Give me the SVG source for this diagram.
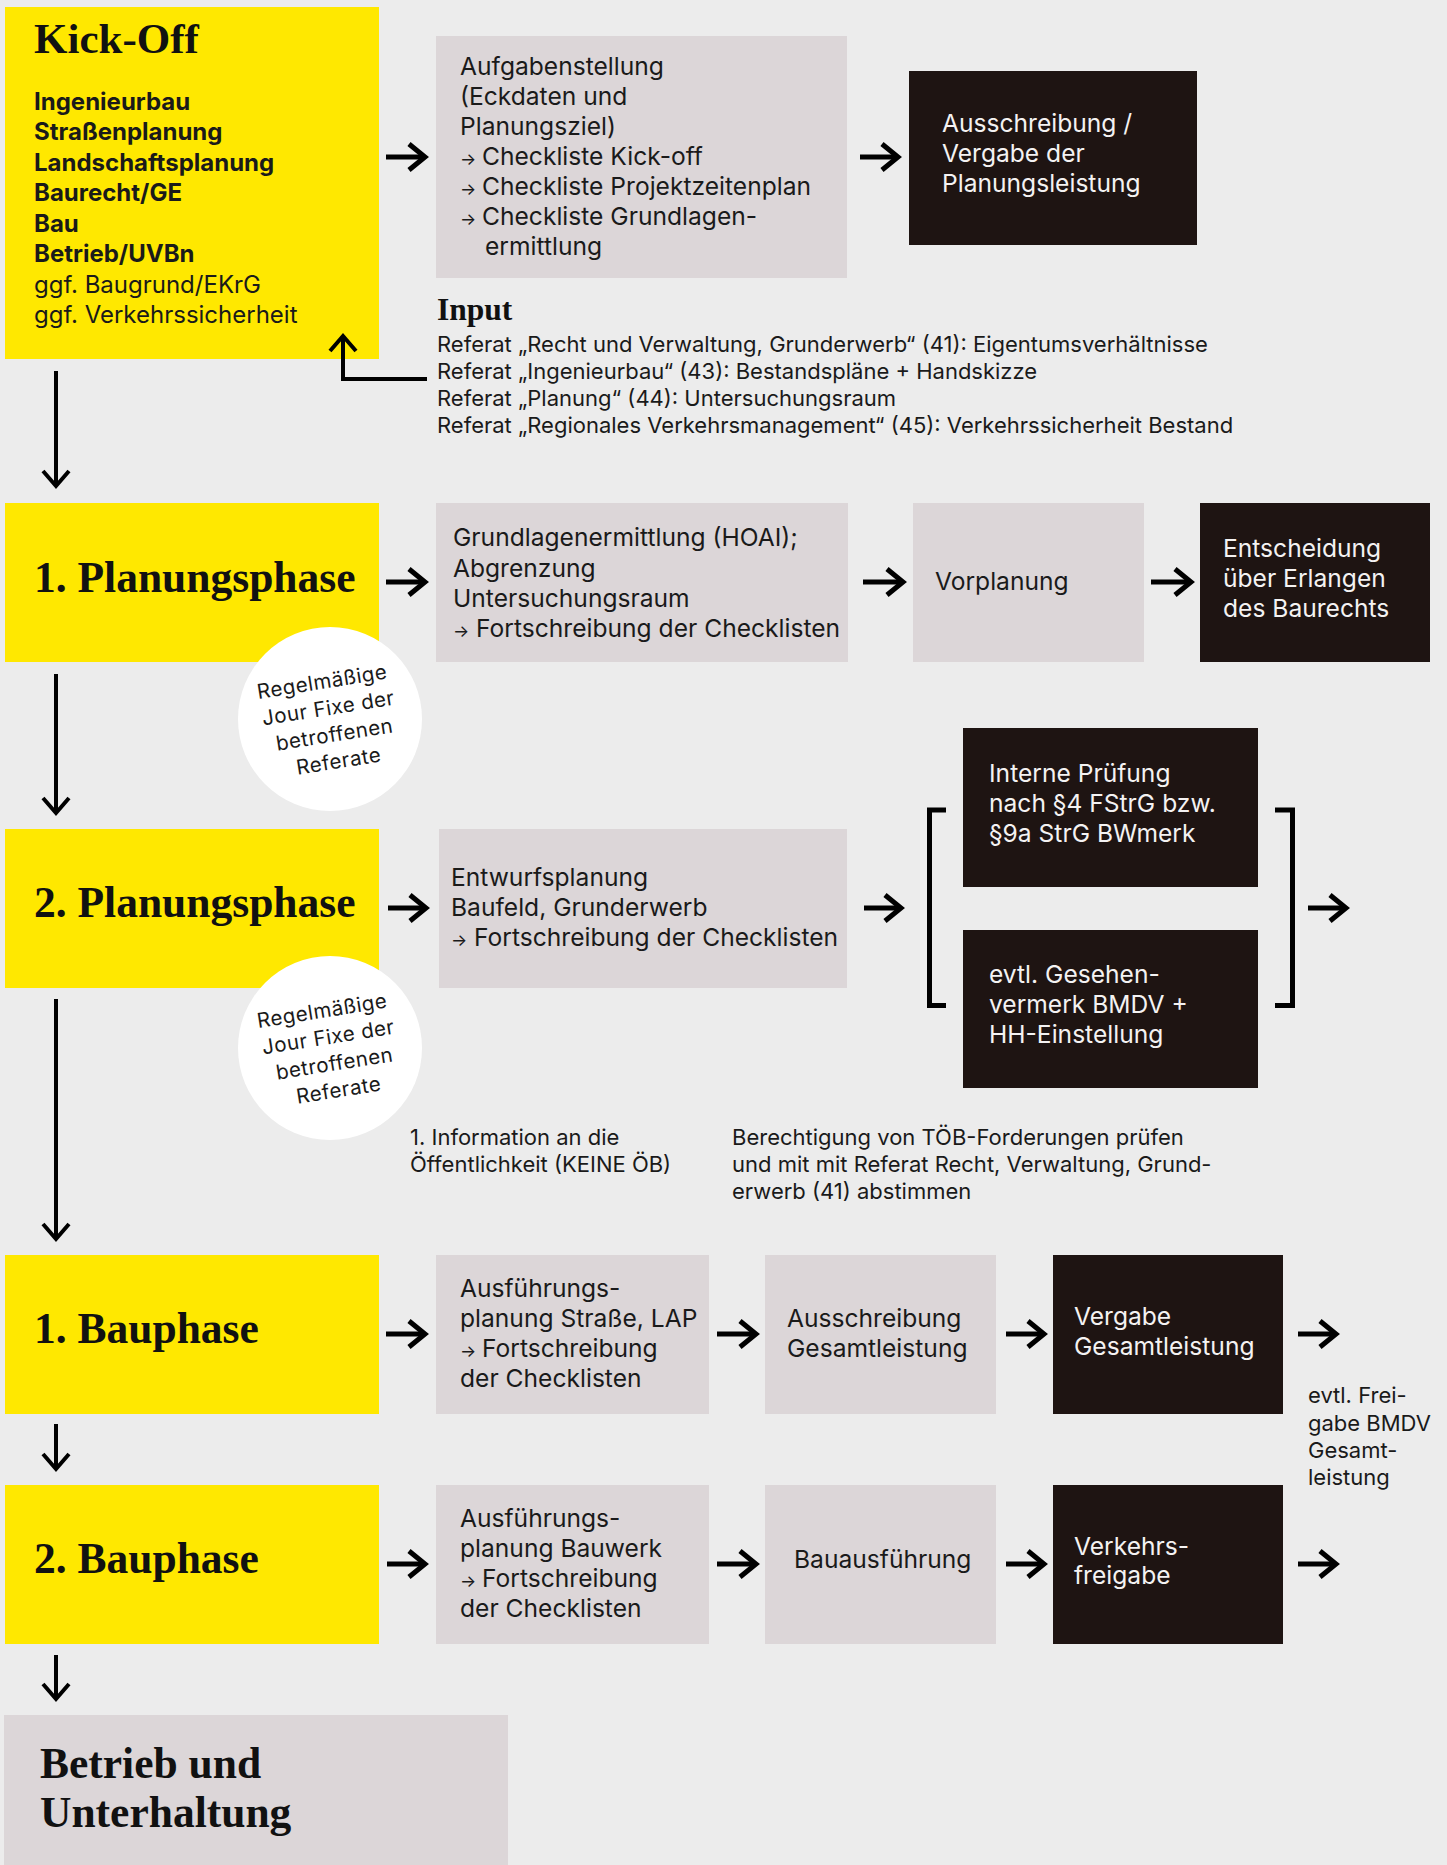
<svg xmlns="http://www.w3.org/2000/svg" width="1447" height="1865" viewBox="0 0 1447 1865">
<defs>
<style>
.bg{fill:#ececec}
.y{fill:#ffe800}
.g{fill:#dcd6d8}
.d{fill:#1e1412}
.c{fill:#ffffff}
.t{font-family:Inter,"Liberation Sans",sans-serif;font-size:24.6px;fill:#1a1a1a}
.k{font-size:24px}
.tb{font-weight:700}
.w{fill:#f4f2f2}
.s{font-size:22px}
.h{font-family:"Liberation Serif","DejaVu Serif",serif;font-weight:700;font-size:43.5px;fill:#111}
.h2{font-size:31.5px}
.ar{font-size:17px}
.cir{font-family:Inter,"Liberation Sans",sans-serif;font-size:20.5px;fill:#1a1a1a;text-anchor:middle;letter-spacing:0.5px}
.cn{fill:none;stroke:#000;stroke-width:5}
.cv{fill:none;stroke:#000;stroke-width:4}
.br{fill:none;stroke:#000;stroke-width:5;stroke-linejoin:miter}
</style>
<marker id="ah" viewBox="-20 -16 24 32" refX="0" refY="0" markerWidth="24" markerHeight="32" markerUnits="userSpaceOnUse" orient="auto">
<path d="M-16,-13 L0,0 L-16,13" fill="none" stroke="#000" stroke-width="5"/>
</marker>
<marker id="av" viewBox="-20 -16 24 32" refX="0" refY="0" markerWidth="24" markerHeight="32" markerUnits="userSpaceOnUse" orient="auto">
<path d="M-15,-13 L0,0 L-15,13" fill="none" stroke="#000" stroke-width="4"/>
</marker>
</defs>
<rect class="bg" x="0" y="0" width="1447" height="1865"/>

<g id="kickoff">
<rect class="y" x="5" y="7" width="374" height="352"/>
<text class="h" x="34" y="53" style="font-size:43px">Kick-Off</text>
<text class="t k tb" x="34" y="110">Ingenieurbau</text>
<text class="t k tb" x="34" y="140">Straßenplanung</text>
<text class="t k tb" x="34" y="171">Landschaftsplanung</text>
<text class="t k tb" x="34" y="201">Baurecht/GE</text>
<text class="t k tb" x="34" y="232">Bau</text>
<text class="t k tb" x="34" y="262">Betrieb/UVBn</text>
<text class="t k" x="34" y="293">ggf. Baugrund/EKrG</text>
<text class="t k" x="34" y="323">ggf. Verkehrssicherheit</text>
</g>

<g id="aufgaben">
<rect class="g" x="436" y="36" width="411" height="242"/>
<text class="t" x="460" y="75">Aufgabenstellung</text>
<text class="t" x="460" y="105">(Eckdaten und</text>
<text class="t" x="460" y="135">Planungsziel)</text>
<text class="t" y="165"><tspan class="ar" x="460">→</tspan><tspan x="482">Checkliste Kick-off</tspan></text>
<text class="t" y="195"><tspan class="ar" x="460">→</tspan><tspan x="482">Checkliste Projektzeitenplan</tspan></text>
<text class="t" y="225"><tspan class="ar" x="460">→</tspan><tspan x="482">Checkliste Grundlagen-</tspan></text>
<text class="t" x="485" y="255">ermittlung</text>
</g>

<g id="ausschreibung-planung">
<rect class="d" x="909" y="71" width="288" height="174"/>
<text class="t w" x="942" y="132">Ausschreibung / </text>
<text class="t w" x="942" y="162">Vergabe der</text>
<text class="t w" x="942" y="192">Planungsleistung</text>
</g>

<g id="input">
<text class="h h2" x="437" y="320">Input</text>
<text class="t s" x="437" y="352">Referat „Recht und Verwaltung, Grunderwerb“ (41): Eigentumsverhältnisse</text>
<text class="t s" x="437" y="379">Referat „Ingenieurbau“ (43): Bestandspläne + Handskizze</text>
<text class="t s" x="437" y="406">Referat „Planung“ (44): Untersuchungsraum</text>
<text class="t s" x="437" y="433">Referat „Regionales Verkehrsmanagement“ (45): Verkehrssicherheit Bestand</text>
</g>

<g id="planungsphase1">
<rect class="y" x="5" y="503" width="374" height="159"/>
<text class="h" x="34" y="592">1. Planungsphase</text>
</g>

<g id="jourfixe1">
<circle class="c" cx="330" cy="719" r="92"/>
<g transform="rotate(-9 330 719)">
<text class="cir" x="328" y="688">Regelmäßige</text>
<text class="cir" x="330" y="715">Jour Fixe der</text>
<text class="cir" x="332" y="742">betroffenen</text>
<text class="cir" x="332" y="769">Referate</text>
</g>
</g>

<g id="grundlagen">
<rect class="g" x="436" y="503" width="412" height="159"/>
<text class="t" x="453" y="546">Grundlagenermittlung (HOAI);</text>
<text class="t" x="453" y="577">Abgrenzung</text>
<text class="t" x="453" y="607">Untersuchungsraum</text>
<text class="t" y="637"><tspan class="ar" x="453">→</tspan><tspan x="476">Fortschreibung der Checklisten</tspan></text>
</g>

<g id="vorplanung">
<rect class="g" x="913" y="503" width="231" height="159"/>
<text class="t" x="935" y="590">Vorplanung</text>
</g>

<g id="entscheidung">
<rect class="d" x="1200" y="503" width="230" height="159"/>
<text class="t w" x="1223" y="557">Entscheidung</text>
<text class="t w" x="1223" y="587">über Erlangen</text>
<text class="t w" x="1223" y="617">des Baurechts</text>
</g>

<g id="planungsphase2">
<rect class="y" x="5" y="829" width="374" height="159"/>
<text class="h" x="34" y="917">2. Planungsphase</text>
</g>

<g id="jourfixe2">
<circle class="c" cx="330" cy="1048" r="92"/>
<g transform="rotate(-9 330 1048)">
<text class="cir" x="328" y="1017">Regelmäßige</text>
<text class="cir" x="330" y="1044">Jour Fixe der</text>
<text class="cir" x="332" y="1071">betroffenen</text>
<text class="cir" x="332" y="1098">Referate</text>
</g>
</g>

<g id="entwurf">
<rect class="g" x="439" y="829" width="408" height="159"/>
<text class="t" x="451" y="886">Entwurfsplanung</text>
<text class="t" x="451" y="916">Baufeld, Grunderwerb</text>
<text class="t" y="946"><tspan class="ar" x="451">→</tspan><tspan x="474">Fortschreibung der Checklisten</tspan></text>
</g>

<g id="pruefung">
<rect class="d" x="963" y="728" width="295" height="159"/>
<text class="t w" x="989" y="782">Interne Prüfung</text>
<text class="t w" x="989" y="812">nach §4 FStrG bzw.</text>
<text class="t w" x="989" y="842">§9a StrG BWmerk</text>
</g>

<g id="gesehenvermerk">
<rect class="d" x="963" y="930" width="295" height="158"/>
<text class="t w" x="989" y="983">evtl. Gesehen-</text>
<text class="t w" x="989" y="1013">vermerk BMDV +</text>
<text class="t w" x="989" y="1043">HH-Einstellung</text>
</g>

<g id="notes">
<text class="t s" x="410" y="1145">1. Information an die</text>
<text class="t s" x="410" y="1172">Öffentlichkeit (KEINE ÖB)</text>
<text class="t s" x="732" y="1145">Berechtigung von TÖB-Forderungen prüfen</text>
<text class="t s" x="732" y="1172">und mit mit Referat Recht, Verwaltung, Grund-</text>
<text class="t s" x="732" y="1199">erwerb (41) abstimmen</text>
</g>

<g id="bauphase1">
<rect class="y" x="5" y="1255" width="374" height="159"/>
<text class="h" x="34" y="1343">1. Bauphase</text>
</g>

<g id="ausfuehrung1">
<rect class="g" x="436" y="1255" width="273" height="159"/>
<text class="t" x="460" y="1297">Ausführungs-</text>
<text class="t" x="460" y="1327">planung Straße, LAP</text>
<text class="t" y="1357"><tspan class="ar" x="460">→</tspan><tspan x="482">Fortschreibung</tspan></text>
<text class="t" x="460" y="1387">der Checklisten</text>
</g>

<g id="ausschreibung-gesamt">
<rect class="g" x="765" y="1255" width="231" height="159"/>
<text class="t" x="787" y="1327">Ausschreibung</text>
<text class="t" x="787" y="1357">Gesamtleistung</text>
</g>

<g id="vergabe">
<rect class="d" x="1053" y="1255" width="230" height="159"/>
<text class="t w" x="1074" y="1325">Vergabe</text>
<text class="t w" x="1074" y="1355">Gesamtleistung</text>
</g>

<g id="freigabe-note">
<text class="t s" x="1308" y="1403">evtl. Frei-</text>
<text class="t s" x="1308" y="1431">gabe BMDV</text>
<text class="t s" x="1308" y="1458">Gesamt-</text>
<text class="t s" x="1308" y="1485">leistung</text>
</g>

<g id="bauphase2">
<rect class="y" x="5" y="1485" width="374" height="159"/>
<text class="h" x="34" y="1573">2. Bauphase</text>
</g>

<g id="ausfuehrung2">
<rect class="g" x="436" y="1485" width="273" height="159"/>
<text class="t" x="460" y="1527">Ausführungs-</text>
<text class="t" x="460" y="1557">planung Bauwerk</text>
<text class="t" y="1587"><tspan class="ar" x="460">→</tspan><tspan x="482">Fortschreibung</tspan></text>
<text class="t" x="460" y="1617">der Checklisten</text>
</g>

<g id="bauausfuehrung">
<rect class="g" x="765" y="1485" width="231" height="159"/>
<text class="t" x="794" y="1568">Bauausführung</text>
</g>

<g id="verkehrsfreigabe">
<rect class="d" x="1053" y="1485" width="230" height="159"/>
<text class="t w" x="1074" y="1555">Verkehrs-</text>
<text class="t w" x="1074" y="1584">freigabe</text>
</g>

<g id="betrieb">
<rect class="g" x="4" y="1715" width="504" height="150"/>
<text class="h" x="40" y="1778">Betrieb und</text>
<text class="h" x="40" y="1827">Unterhaltung</text>
</g>

<g id="connectors">
<path class="cn" marker-end="url(#ah)" d="M386,157 H425"/>
<path class="cn" marker-end="url(#ah)" d="M860,157 H898"/>
<path class="cv" marker-end="url(#av)" d="M427,379 H343 V336"/>
<path class="cv" marker-end="url(#av)" d="M56,371 V486"/>
<path class="cn" marker-end="url(#ah)" d="M386,582 H425"/>
<path class="cn" marker-end="url(#ah)" d="M863,582 H903"/>
<path class="cn" marker-end="url(#ah)" d="M1151,582 H1191"/>
<path class="cv" marker-end="url(#av)" d="M56,674 V813"/>
<path class="cn" marker-end="url(#ah)" d="M388,908 H426"/>
<path class="cn" marker-end="url(#ah)" d="M864,908 H901"/>
<path class="br" d="M946,810 H929.5 V1005.5 H946"/>
<path class="br" d="M1275,810 H1292.5 V1005.5 H1275"/>
<path class="cn" marker-end="url(#ah)" d="M1308,908 H1346"/>
<path class="cv" marker-end="url(#av)" d="M56,999 V1239"/>
<path class="cn" marker-end="url(#ah)" d="M386,1334 H425"/>
<path class="cn" marker-end="url(#ah)" d="M717,1334 H756"/>
<path class="cn" marker-end="url(#ah)" d="M1006,1334 H1044"/>
<path class="cn" marker-end="url(#ah)" d="M1298,1334 H1336"/>
<path class="cv" marker-end="url(#av)" d="M56,1424 V1469"/>
<path class="cn" marker-end="url(#ah)" d="M387,1564 H425"/>
<path class="cn" marker-end="url(#ah)" d="M717,1564 H756"/>
<path class="cn" marker-end="url(#ah)" d="M1006,1564 H1044"/>
<path class="cn" marker-end="url(#ah)" d="M1298,1564 H1336"/>
<path class="cv" marker-end="url(#av)" d="M56,1655 V1699"/>
</g>
</svg>
